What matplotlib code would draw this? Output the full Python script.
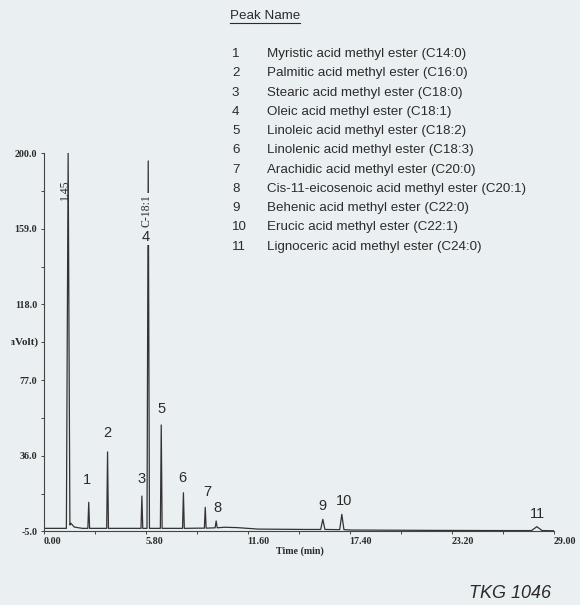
import matplotlib
matplotlib.use("Agg")
import matplotlib.pyplot as plt
from matplotlib import font_manager
from matplotlib.lines import Line2D
from matplotlib.transforms import Bbox
import numpy as np

solvent_time = 1.40
solvent_height = 200.0
solvent_halfwidth = 0.10

peak_ids = ["1", "2", "3", "4", "5", "6", "7", "8", "9", "10", "11"]
peak_times = [2.57, 3.64, 5.59, 5.95, 6.69, 7.95, 9.19, 9.81, 15.87, 16.95, 28.03]
peak_heights = [10.8, 38.1, 14.2, 195.7, 52.7, 16.0, 8.1, 0.7, 1.6, 4.3, -2.4]
peak_bases = [-3.3, -3.3, -3.3, -3.3, -3.3, -3.3, -3.2, -3.0, -3.9, -4.0, -4.5]
peak_halfwidths = [0.05, 0.05, 0.05, 0.07, 0.05, 0.05, 0.05, 0.06, 0.12, 0.12, 0.30]

baseline_t = [0.05, 1.2, 1.55, 1.75, 2.2, 5.0, 8.8, 10.3, 11.0, 12.2, 15.0, 17.5, 22.0, 26.0, 29.0]
baseline_v = [-3.3, -3.3, -0.5, -2.6, -3.3, -3.3, -3.2, -2.7, -2.9, -3.7, -3.9, -4.2, -4.4, -4.5, -4.6]

peak_names = [
    "Myristic acid methyl ester (C14:0)",
    "Palmitic acid methyl ester (C16:0)",
    "Stearic acid methyl ester (C18:0)",
    "Oleic acid methyl ester (C18:1)",
    "Linoleic acid methyl ester (C18:2)",
    "Linolenic acid methyl ester (C18:3)",
    "Arachidic acid methyl ester (C20:0)",
    "Cis-11-eicosenoic acid methyl ester (C20:1)",
    "Behenic acid methyl ester (C22:0)",
    "Erucic acid methyl ester (C22:1)",
    "Lignoceric acid methyl ester (C24:0)",
]

y_ticks = [-5.0, 36.0, 77.0, 118.0, 159.0, 200.0]
x_ticks = [0.00, 5.80, 11.60, 17.40, 23.20, 29.00]

# polozenia etykiet pikow (wspolrzedne danych)
label_pos = [(2.48, 22.9), (3.62, 48.2), (5.59, 23.4), (5.78, 154.7), (6.72, 61.4),
             (7.91, 24.1), (9.28, 16.6), (9.90, 7.9), (15.84, 9.0), (17.06, 11.7),
             (28.05, 4.3)]

BG = "#EAEFF2"
INK = "#2b2b2b"
names = {f.name for f in font_manager.fontManager.ttflist}
SANS = "Liberation Sans Narrow" if "Liberation Sans Narrow" in names else "Liberation Sans"
SERIF = "Liberation Serif"

fig = plt.figure(figsize=(5.8, 6.05), dpi=100, facecolor=BG)
ax = fig.add_axes([0.075, 0.1215, 0.88, 0.6256])
ax.set_facecolor(BG)

# sklejenie linii bazowej i pikow w jeden przebieg
pts = list(zip(baseline_t, baseline_v))
pts += [(solvent_time - solvent_halfwidth, -3.3), (solvent_time, solvent_height),
        (solvent_time + solvent_halfwidth, -1.5)]
for t, h, b, w in zip(peak_times, peak_heights, peak_bases, peak_halfwidths):
    pts += [(t - w, b), (t, h), (t + w, b)]
pts.sort(key=lambda p: p[0])
xs, ys = zip(*pts)
ax.plot(xs, ys, color="#333333", lw=0.9)

ax.set_xlim(0, 29)
ax.set_ylim(-5, 200)
for s in ["top", "right"]:
    ax.spines[s].set_visible(False)
for s in ["left", "bottom"]:
    ax.spines[s].set_color("#444444")
    ax.spines[s].set_linewidth(0.8)

ax.set_yticks(y_ticks)
ax.set_yticks([(a + b) / 2 for a, b in zip(y_ticks[:-1], y_ticks[1:])], minor=True)
ax.set_yticklabels([f"{v:.1f}" for v in y_ticks])
ax.set_xticks(x_ticks)
ax.set_xticks([(a + b) / 2 for a, b in zip(x_ticks[:-1], x_ticks[1:])], minor=True)
ax.set_xticklabels([f"{v:.2f}" for v in x_ticks])
ax.tick_params(which="both", direction="out", length=2.5, width=0.7, color="#444444")
ax.tick_params(axis="y", pad=2)
ax.tick_params(axis="x", pad=1.5)
for lab in ax.get_xticklabels():
    lab.set_ha("left")
for lab in ax.get_xticklabels() + ax.get_yticklabels():
    lab.set_fontfamily(SERIF)
    lab.set_fontweight("bold")
    lab.set_fontsize(7.2)
    lab.set_color(INK)

fig.text(300 / 580, 1 - 551.5 / 605, "Time (min)", family=SERIF, weight="bold",
         fontsize=7.2, color=INK, ha="center", va="center")
# w oryginale etykieta osi Y jest ucieta z lewej strony
ylab = fig.text(38.5 / 580, 1 - 342 / 605, "(mVolt)", family=SERIF, weight="bold",
                fontsize=8, color=INK, ha="right", va="center")
ylab.set_clip_box(Bbox.from_extents(11, 0, 580, 605))
ylab.set_clip_on(True)

# opisy na pikach
ax.text(1.22, 180, "1.45", rotation=90, family=SERIF, fontsize=8.5, color=INK,
        ha="center", va="center")
ax.text(5.85, 169, "C-18:1", rotation=90, family=SERIF, fontsize=8.5, color=INK,
        ha="center", va="center",
        bbox=dict(boxstyle="square,pad=0.1", fc=BG, ec="none"))
for pid, (lx, ly) in zip(peak_ids, label_pos):
    bbox = dict(boxstyle="square,pad=0.1", fc=BG, ec="none") if pid == "4" else None
    ax.text(lx, ly, pid, family=SANS, fontsize=10.5, color=INK,
            ha="center", va="center", bbox=bbox)

# legenda pikow
title = fig.text(230 / 580, 1 - 16 / 605, "Peak Name", family=SANS, fontsize=9.6,
                 color=INK, ha="left", va="center")
fig.canvas.draw()
bb = title.get_window_extent().transformed(fig.transFigure.inverted())
fig.add_artist(Line2D([bb.x0, bb.x1], [1 - 22.5 / 605] * 2, color=INK, lw=0.8))
for i, (pid, name) in enumerate(zip(peak_ids, peak_names)):
    yy = 1 - (54 + i * 19.27) / 605
    fig.text(232 / 580, yy, pid, family=SANS, fontsize=9.6, color=INK, ha="left", va="center")
    fig.text(267 / 580, yy, name, family=SANS, fontsize=9.6, color=INK, ha="left", va="center")

fig.text(551 / 580, 1 - 594 / 605, "TKG 1046", family=SANS, style="italic",
         fontsize=13, color=INK, ha="right", va="center")

fig.savefig("out.png", dpi=100, facecolor=BG)
